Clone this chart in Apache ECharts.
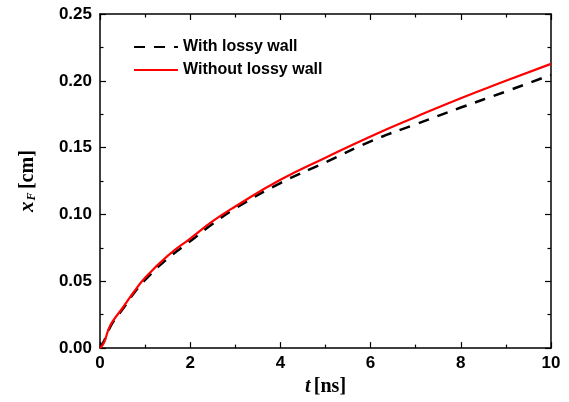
<!DOCTYPE html>
<html><head><meta charset="utf-8">
<script src="https://cdn.jsdelivr.net/npm/echarts@6/dist/echarts.min.js"></script>
<style>html,body{margin:0;padding:0;background:#fff}#c{width:569px;height:402px}</style>
</head><body><div id="c"></div>
<script>
const tValues = [0, 0.05, 0.1, 0.2, 0.3, 0.5, 0.75, 1, 1.5, 2, 2.5, 3, 4, 5, 6, 7, 8, 9, 10];
const withLossy = [0, 0.003, 0.006, 0.014, 0.020, 0.029, 0.041, 0.051, 0.067, 0.080, 0.093, 0.1045, 0.1235, 0.139, 0.1547, 0.1675, 0.180, 0.192, 0.2045];
const withoutLossy = [0, 0.002, 0.005, 0.015, 0.021, 0.030, 0.042, 0.0527, 0.069, 0.082, 0.095, 0.106, 0.126, 0.1425, 0.1584, 0.173, 0.187, 0.200, 0.2127];
const seriesNames = ['With lossy wall', 'Without lossy wall'];

const pairs = arr => tValues.map((t, i) => [t, arr[i]]);
const axisLine = {show: true, onZero: false, lineStyle: {color: '#000', width: 1.5}};
const tick = {show: true, inside: true, length: 6, lineStyle: {color: '#000', width: 1.2}};
const minor = {show: true, splitNumber: 2, length: 3.5, lineStyle: {color: '#000', width: 1.2}};
const lbl = {color: '#000', fontFamily: 'Liberation Sans', fontWeight: 'bold', fontSize: 17};

const chart = echarts.init(document.getElementById('c'), null, {renderer: 'canvas'});
chart.setOption({
  animation: false,
  backgroundColor: '#fff',
  grid: {left: 100, top: 14, right: 18, bottom: 53, containLabel: false},
  legend: {
    data: seriesNames, orient: 'vertical', left: 133, top: 39, padding: 0,
    itemWidth: 44, itemHeight: 14, itemGap: 7,
    itemStyle: {opacity: 0, borderWidth: 0},
    textStyle: {color: '#000', fontFamily: 'Liberation Sans', fontWeight: 'bold', fontSize: 16}
  },
  xAxis: [
    {type: 'value', min: 0, max: 10, interval: 2, position: 'bottom',
     axisLine, axisTick: tick, minorTick: minor, splitLine: {show: false},
     axisLabel: Object.assign({margin: 7}, lbl),
     name: '{i|t} {b|[ns]}', nameLocation: 'middle', nameGap: 22,
     nameTextStyle: {rich: {
       i: {fontFamily: 'Liberation Serif', fontStyle: 'italic', fontWeight: 'bold', fontSize: 20, color: '#000'},
       b: {fontFamily: 'Liberation Serif', fontWeight: 'bold', fontSize: 20, color: '#000'}}}},
    {type: 'value', min: 0, max: 10, interval: 2, position: 'top',
     axisLine, axisTick: tick, minorTick: minor, splitLine: {show: false}, axisLabel: {show: false}}
  ],
  yAxis: [
    {type: 'value', min: 0, max: 0.25, interval: 0.05, position: 'left',
     axisLine, axisTick: tick, minorTick: minor, splitLine: {show: false},
     axisLabel: Object.assign({margin: 8, formatter: v => v.toFixed(2)}, lbl),
     name: '{i|x}{s|F} {b|[cm]}', nameLocation: 'middle', nameGap: 62, nameRotate: 90,
     nameTextStyle: {rich: {
       i: {fontFamily: 'Liberation Serif', fontStyle: 'italic', fontWeight: 'bold', fontSize: 21, color: '#000', lineHeight: 22, verticalAlign: 'bottom'},
       s: {fontFamily: 'Liberation Serif', fontStyle: 'italic', fontWeight: 'bold', fontSize: 12, color: '#000', lineHeight: 22, verticalAlign: 'bottom', padding: [10,0,0,1]},
       b: {fontFamily: 'Liberation Serif', fontWeight: 'bold', fontSize: 20, color: '#000', lineHeight: 22, verticalAlign: 'bottom'}}}},
    {type: 'value', min: 0, max: 0.25, interval: 0.05, position: 'right',
     axisLine, axisTick: tick, minorTick: minor, splitLine: {show: false}, axisLabel: {show: false}}
  ],
  series: [
    {name: seriesNames[0], type: 'line', data: pairs(withLossy), smooth: true, symbol: 'none',
     lineStyle: {color: '#000', width: 2.5, type: [11, 9]}, itemStyle: {color: '#000'}},
    {name: seriesNames[1], type: 'line', data: pairs(withoutLossy), smooth: true, symbol: 'none',
     lineStyle: {color: '#ff0000', width: 2.2}, itemStyle: {color: '#ff0000'}}
  ]
});
</script></body></html>
